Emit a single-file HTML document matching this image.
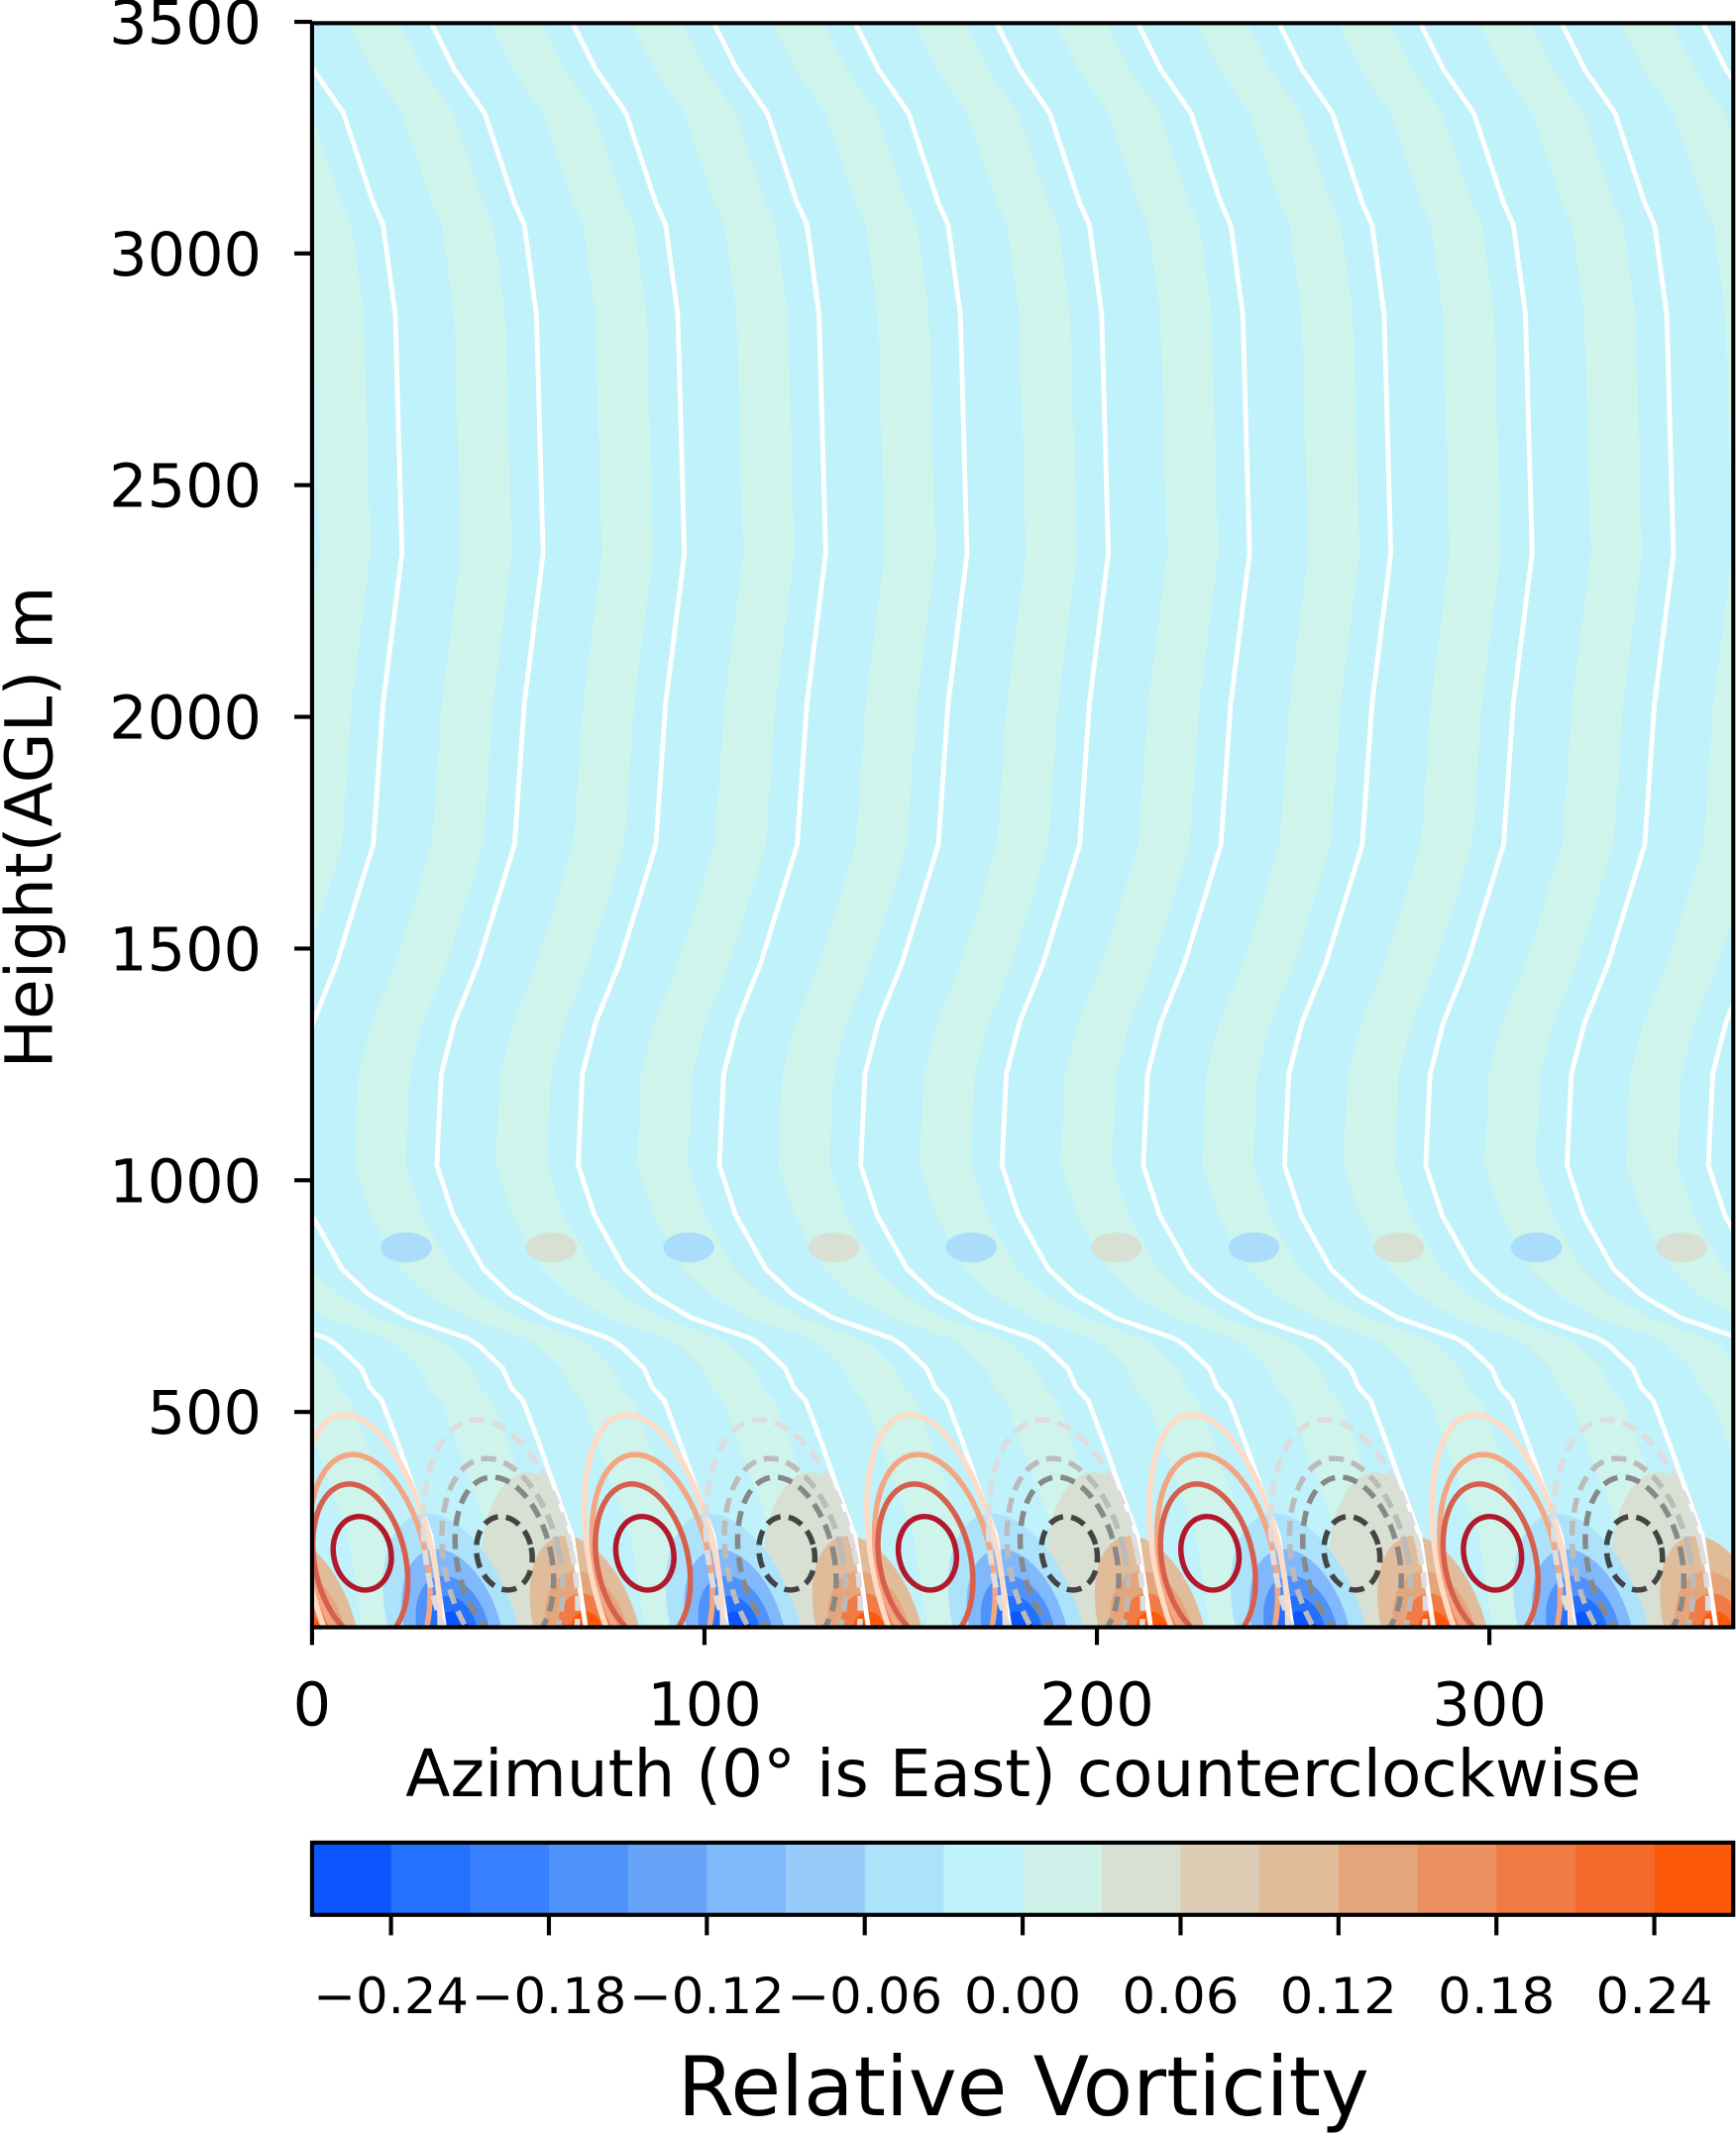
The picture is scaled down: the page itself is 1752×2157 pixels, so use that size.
<!DOCTYPE html>
<html><head><meta charset="utf-8"><style>
html,body{margin:0;padding:0;background:#fff}
svg{display:block}
text{font-family:"DejaVu Sans","Liberation Sans",sans-serif;fill:#000}
</style></head><body>
<svg id="chart" width="1752" height="2157" viewBox="0 0 1274 1568" preserveAspectRatio="none" xmlns="http://www.w3.org/2000/svg">
<defs><clipPath id="plotclip"><rect x="229" y="17" width="1043" height="1177"/></clipPath></defs>
<g id="plot" clip-path="url(#plotclip)"></g>
<g id="axes"></g>
<g id="cbar"></g>
</svg>
<script>
// ---- data ----
const xTicks = [0, 100, 200, 300];
const yTicks = [500, 1000, 1500, 2000, 2500, 3000, 3500];
const periodDeg = 36;
const lineAz = [-5.6,0.3,8.0,15.6,18.1,21.2,22.9,18.1,15.6,6.3,0.3,-3.1,-4.2,0,7.6,14.6,24.7,39.6,42.4,48.6,50.7,53.8,58.0,61.5,66.3,69.8];
const lineH  = [3497,3397,3303,3109,3062,2868,2353,2029,1724,1468,1341,1229,1032,924,809,753,703,659,644,594,553,524,429,344,232,32];
const posAz = [12.8, 84.8, 156.8, 228.8, 300.8];
const negAz = [49, 121, 193, 265, 337];
const posLevels = [{dx:2.2,h:170,rx:16,ry:330,c:'#fddbc7'},{dx:1.9,h:172,rx:14.5,ry:240,c:'#f4a582'},{dx:-0.5,h:175,rx:11.6,ry:172,c:'#d6604d'},{dx:0,h:195,rx:7.3,ry:80,c:'#b2182b'}];
const negLevels = [{dx:-1,h:170,rx:18.5,ry:318,c:'#dddddd'},{dx:-0.5,h:175,rx:14.7,ry:228,c:'#bbbbbb'},{dx:0,h:180,rx:12,ry:182,c:'#888888'},{dx:0,h:195,rx:7,ry:80,c:'#444444'}];
const cbColors = ['#0d55ff','#2470ff','#3a81ff','#5092fb','#68a3fa','#80b8fc','#98cbfa','#ade2fb','#c0f2fb','#cff3ea','#d7e0d2','#dccdb4','#e1bc9a','#e5a57b','#ec9262','#f07b44','#f46a2c','#fc5a0a'];
const cbTicks = [-0.24,-0.18,-0.12,-0.06,0.00,0.06,0.12,0.18,0.24];

// ---- scales ----
const xS = a => 229 + a * 2.88;
const yS = h => 1206 - h * 0.34;
const cbS = v => 229 + (v + 0.27) / 0.54 * 1043;
const NS = 'http://www.w3.org/2000/svg';
function mk(tag, attrs, parent){const e=document.createElementNS(NS,tag);for(const k in attrs)e.setAttribute(k,attrs[k]);parent.appendChild(e);return e;}
const plot = document.getElementById('plot'), axes = document.getElementById('axes'), cbar = document.getElementById('cbar');

let bg = mk('rect',{x:229,y:17,width:1043,height:1177,fill:'#bff2fb'},plot);



function shapePts(shift){return lineAz.map((a,i)=>xS(a+shift).toFixed(1)+','+yS(lineH[i]).toFixed(1));}
// pale green bands
for(let k=-2;k<=11;k++){
  const a = shapePts(k*periodDeg-21), b = shapePts(k*periodDeg-8).reverse();
  const p = mk('polygon',{points:a.concat(b).join(' '),fill:'#cff4ec'},plot);
  
  
}
// small blobs near 900 m
for(let k=0;k<5;k++){
  const b1 = mk('ellipse',{cx:xS(24+72*k),cy:yS(855),rx:6.5*2.88,ry:11,fill:'#a9ddfb'},plot);
  
  
  const b2 = mk('ellipse',{cx:xS(61+72*k),cy:yS(855),rx:6.5*2.88,ry:11,fill:'#d7e0d2'},plot);
  
  
}
// near-surface fills
const blueR=[16,12,9,6,4], blueY=[260,180,120,75,40], blueC=['#ade2fb','#80b8fc','#5092fb','#2470ff','#0d55ff'];
const oraR=[13,10,7,4], oraY=[210,130,80,40], oraC=['#e1bc9a','#e5a57b','#f07b44','#fc5a0a'];
for(let k=-1;k<6;k++){
  const t = mk('ellipse',{cx:xS(55+72*k),cy:yS(170),rx:12*2.88,ry:200*0.34,fill:'#d7e0d2'},plot);
  
  
  blueR.forEach((r,i)=>{const e=mk('ellipse',{cx:xS(36+72*k),cy:yS(30),rx:r*2.88,ry:blueY[i]*0.34,fill:blueC[i],transform:`rotate(-18 ${xS(36+72*k)} ${yS(30)})`},plot);
    
    });
  oraR.forEach((r,i)=>{const e=mk('ellipse',{cx:xS(70+72*k),cy:yS(30),rx:r*2.88,ry:oraY[i]*0.34,fill:oraC[i],transform:`rotate(-18 ${xS(70+72*k)} ${yS(30)})`},plot);
    
    });
}
// white lines
for(let k=-2;k<=11;k++){
  const l = mk('polyline',{points:shapePts(k*periodDeg).join(' '),fill:'none',stroke:'#fff','stroke-width':3.5,'stroke-linejoin':'round'},plot);
  
  
}
// vortex contours
posAz.forEach(a=>posLevels.forEach(L=>{const cx=xS(a+L.dx),cy=yS(L.h);
  const e=mk('ellipse',{cx:cx,cy:cy,rx:L.rx*2.88,ry:L.ry*0.34,fill:'none',stroke:L.c,'stroke-width':4,transform:`rotate(-12 ${cx} ${cy})`},plot);
  
  }));
negAz.forEach(a=>negLevels.forEach(L=>{const cx=xS(a+L.dx),cy=yS(L.h);
  const e=mk('ellipse',{cx:cx,cy:cy,rx:L.rx*2.88,ry:L.ry*0.34,fill:'none',stroke:L.c,'stroke-width':4,'stroke-dasharray':'11 6',transform:`rotate(-12 ${cx} ${cy})`},plot);
  
  }));

// axes frame
let fr = mk('rect',{x:229,y:17,width:1043,height:1177,fill:'none',stroke:'#000','stroke-width':3},axes);


xTicks.forEach(v=>{
  const t=mk('line',{x1:xS(v),x2:xS(v),y1:1194,y2:1207,stroke:'#000','stroke-width':3},axes);
  
  
  const tx=mk('text',{x:xS(v),y:1266,'text-anchor':'middle','font-size':44},axes);tx.textContent=v;
  
  
});
yTicks.forEach(v=>{
  const t=mk('line',{x1:216,x2:229,y1:yS(v),y2:yS(v),stroke:'#000','stroke-width':3},axes);
  
  
  const tx=mk('text',{x:192,y:yS(v)+16,'text-anchor':'end','font-size':44},axes);tx.textContent=v;
  
  
});
let xl=mk('text',{x:751,y:1318,'text-anchor':'middle','font-size':48},axes);xl.textContent='Azimuth (0° is East) counterclockwise';


let yl=mk('text',{x:0,y:0,'text-anchor':'middle','font-size':48,transform:'translate(38 607) rotate(-90)'},axes);yl.textContent='Height(AGL) m';



// colorbar
cbColors.forEach((c,i)=>{const v0=-0.27+i*0.03;
  const r=mk('rect',{x:cbS(v0),y:1352,width:cbS(v0+0.03)-cbS(v0)+0.5,height:53,fill:c},cbar);
  
  });
let cf=mk('rect',{x:229,y:1352,width:1043,height:53,fill:'none',stroke:'#000','stroke-width':3},cbar);


cbTicks.forEach(v=>{
  const t=mk('line',{x1:cbS(v),x2:cbS(v),y1:1405,y2:1420,stroke:'#000','stroke-width':3},cbar);
  
  
  const tx=mk('text',{x:cbS(v),y:1477,'text-anchor':'middle','font-size':36,textLength:v<0?114:86,lengthAdjust:'spacingAndGlyphs'},cbar);
  tx.textContent=(v<0?'\u2212':'')+Math.abs(v).toFixed(2);
  
  
});
let ct=mk('text',{x:751,y:1552,'text-anchor':'middle','font-size':60},cbar);ct.textContent='Relative Vorticity';


</script>
</body></html>
